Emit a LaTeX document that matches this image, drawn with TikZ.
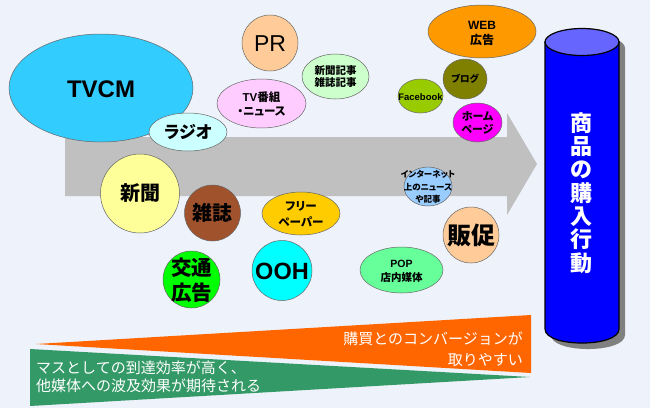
\documentclass[tikz,border=0pt]{standalone}
\usepackage{fontspec}
\newfontfamily\jp[RawFeature=+palt]{Noto Sans CJK JP}
\newfontfamily\jpfull{Noto Sans CJK JP}
\newfontfamily\lat{Liberation Sans}
\newcommand\fsz[2]{\fontsize{#1}{#2}\selectfont}
\definecolor{bg}{HTML}{EEF2FA}
\definecolor{flow}{HTML}{C0C0C0}
\definecolor{tvcmc}{HTML}{33CCFF}
\definecolor{peach}{HTML}{FFCC99}
\definecolor{pinkc}{HTML}{FFCCFF}
\definecolor{radioc}{HTML}{CCFFFF}
\definecolor{articlec}{HTML}{CCFFCC}
\definecolor{webc}{HTML}{FF9900}
\definecolor{blogc}{HTML}{808000}
\definecolor{fbc}{HTML}{99CC00}
\definecolor{hpc}{HTML}{FF00FF}
\definecolor{netc}{HTML}{99CCFF}
\definecolor{popc}{HTML}{66FF99}
\definecolor{paperc}{HTML}{FFFF99}
\definecolor{magc}{HTML}{A0522D}
\definecolor{freec}{HTML}{FFCC00}
\definecolor{transitc}{HTML}{00FF00}
\definecolor{oohc}{HTML}{00FFFF}
\definecolor{cylbody}{HTML}{0000FF}
\definecolor{cyltop}{HTML}{6666FF}
\definecolor{convc}{HTML}{FF6600}
\definecolor{reachc}{HTML}{339966}
\begin{document}
\begin{tikzpicture}[x=1pt,y=-1pt,
    medium/.style={draw=gray!80!black,line width=0.5pt},
    tag/.style={inner sep=0pt,align=center,font=\jp\bfseries}]
    \useasboundingbox[fill=bg] (0,0) rectangle (650,408);
    % flow towards the purchase
    \fill[flow] (65,137) -- (507,137) -- (507,113) -- (537,164) -- (507,215) -- (507,196) -- (65,196) -- cycle;
    %
    \filldraw[medium,fill=tvcmc] (101,88) ellipse (92 and 54);
    \node[tag,font=\lat\bfseries\fsz{24}{28}] (tvcm) at (101,89) {TVCM};
    \filldraw[medium,fill=peach] (270,43) circle (28);
    \node[tag,font=\lat\fsz{23}{27}] (pr) at (270,44) {PR};
    \filldraw[medium,fill=pinkc] (261.5,103.5) ellipse (44.5 and 24.5);
    \node[tag,font=\jp\bfseries\fsz{11.5}{14}] (tvprog) at (261.5,104) {{\lat TV}番組\\・ニュース};
    \filldraw[medium,fill=radioc] (188,132) ellipse (39 and 19);
    \node[tag,font=\jp\bfseries\fsz{17}{20}] (radio) at (188,132) {ラジオ};
    \filldraw[medium,fill=articlec] (335.5,76.5) ellipse (33.5 and 22.5);
    \node[tag,font=\jp\bfseries\fsz{10.5}{12}] (article) at (335.5,77) {新聞記事\\雑誌記事};
    %
    \filldraw[medium,fill=webc] (482,31.5) ellipse (54 and 26.5);
    \node[tag,font=\jp\bfseries\fsz{12}{15}] (web) at (482,33) {{\lat WEB}\\広告};
    \filldraw[medium,fill=blogc] (465,79) ellipse (22 and 20);
    \node[tag,font=\jp\bfseries\fsz{9.5}{12}] (blog) at (465,79) {ブログ};
    \filldraw[medium,fill=fbc] (420.5,96) ellipse (22.5 and 17);
    \node[tag,font=\lat\bfseries\fsz{9.5}{12}] (fb) at (420.5,97) {Facebook};
    \filldraw[medium,fill=hpc] (477.5,122.5) ellipse (24.5 and 19.5);
    \node[tag,font=\jp\bfseries\fsz{11}{12.5}] (hp) at (477.5,123) {ホーム\\ページ};
    \filldraw[medium,fill=netc] (428,186.5) ellipse (24 and 19.5);
    \node[tag,font=\jp\bfseries\fsz{8.5}{12.5}] (net) at (428,187) {インターネット\\上のニュース\\や記事};
    \filldraw[medium,fill=peach] (471,235) circle (28);
    \node[tag,font=\jp\bfseries\fsz{24}{28}] (promo) at (471,235) {販促};
    \filldraw[medium,fill=popc] (401.5,270) ellipse (41.5 and 23);
    \node[tag,font=\jp\bfseries\fsz{10.5}{14}] (pop) at (401.5,271) {{\lat POP}\\店内媒体};
    %
    \filldraw[medium,fill=paperc] (140,193.5) circle (39.5);
    \node[tag,font=\jp\bfseries\fsz{20}{24}] (paper) at (140,193.5) {新聞};
    \filldraw[medium,fill=magc] (212.5,213) circle (28);
    \node[tag,font=\jp\bfseries\fsz{20}{24}] (mag) at (212.5,213) {雑誌};
    \filldraw[medium,fill=freec] (301,213.5) ellipse (39 and 21.5);
    \node[tag,font=\jp\bfseries\fsz{11.5}{16}] (free) at (301,214) {フリー\\ペーパー};
    \filldraw[medium,fill=transitc] (191.5,279.5) circle (28.5);
    \node[tag,font=\jp\bfseries\fsz{20.5}{25}] (transit) at (191.5,280.5) {交通\\広告};
    \filldraw[medium,fill=oohc] (282,270.5) circle (30);
    \node[tag,font=\lat\bfseries\fsz{23.5}{27}] (ooh) at (282,271) {OOH};
    %
    \begin{scope}[shift={(6,6)}]
        \fill[gray] (545,42) -- (545,329) .. controls (545,347.7) and (619,347.7) .. (619,329) -- (619,42) -- cycle;
        \fill[gray] (582,42) ellipse (37 and 13.5);
    \end{scope}
    \filldraw[fill=cylbody,draw=black,line width=1.2pt] (545,42) -- (545,329) .. controls (545,347.7) and (619,347.7) .. (619,329) -- (619,42) -- cycle;
    \filldraw[fill=cyltop,draw=black,line width=1.2pt] (582,42) ellipse (37 and 13.5);
    \node[tag,text=white,font=\jp\bfseries\fsz{22}{23.3}] (buy) at (581,193) {商\\品\\の\\購\\入\\行\\動};
    %
    \fill[convc] (36,344) -- (531,315) -- (531,373) -- cycle;
    \fill[reachc] (30,349) -- (530,377) -- (30,406) -- cycle;
    \node[tag,anchor=east,align=right,text=white,font=\jpfull\fsz{15}{21}] (conv) at (523,349.5) {購買とのコンバージョンが\\取りやすい};
    \node[tag,anchor=west,align=left,text=white,font=\jpfull\fsz{15}{18}] (reach) at (36,377) {マスとしての到達効率が高く、\\他媒体への波及効果が期待される};
\end{tikzpicture}
\end{document}
